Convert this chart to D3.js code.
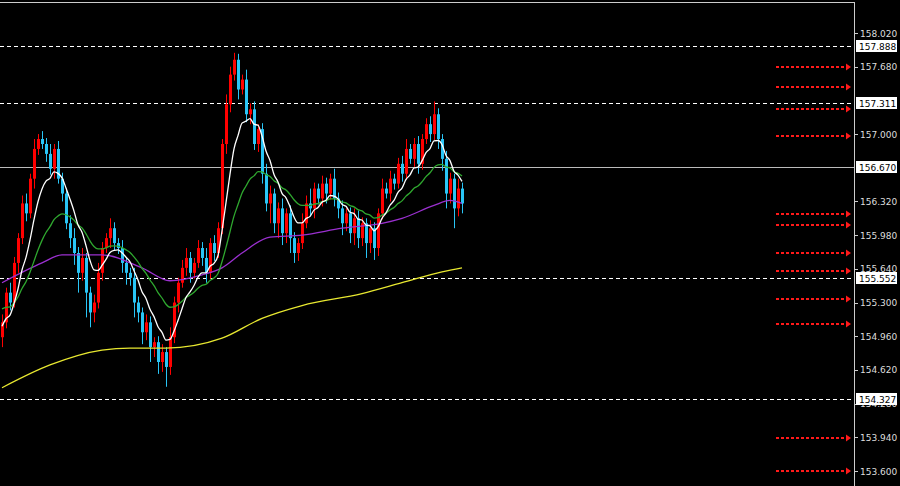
<!DOCTYPE html>
<html><head><meta charset="utf-8">
<script src="https://cdn.jsdelivr.net/npm/d3@7"></script>
<style>body{margin:0;background:#000;overflow:hidden}</style>
</head><body><div id="container"></div>
<script>
// closes per bar, open = previous close
const closes = [155.10,155.40,155.30,155.70,155.95,156.30,156.20,156.55,156.85,156.95,
156.90,156.80,156.65,156.85,156.55,156.40,156.10,155.95,155.80,155.60,
155.75,155.40,155.20,155.30,155.60,155.85,155.95,156.05,155.90,155.85,
155.70,155.60,155.55,155.30,155.20,155.00,155.10,154.85,154.90,154.70,
154.80,154.65,154.95,155.30,155.50,155.65,155.75,155.60,155.70,155.85,
155.75,155.60,155.90,155.80,156.05,156.90,157.30,157.60,157.75,157.45,
157.55,157.20,157.25,156.90,157.05,156.60,156.30,156.40,156.10,156.25,
156.00,156.20,155.95,155.80,155.90,156.10,156.30,156.25,156.45,156.35,
156.50,156.40,156.55,156.35,156.25,156.10,156.20,156.00,156.15,155.95,
156.10,155.90,156.05,155.85,156.20,156.45,156.40,156.55,156.50,156.70,
156.60,156.85,156.75,156.90,156.70,156.95,157.10,157.00,157.20,156.95,
156.75,156.40,156.55,156.25,156.45,156.30];
const firstOpen = 154.95;
const wickUp = [.08,.05,.1,.06,.05,.08,.1,.05,.1,.05,.08,.06,.1,.05,.08,.06,.05,.08,.1,.06,
.1,.05,.06,.08,.1,.06,.05,.1,.06,.05,.08,.06,.05,.1,.06,.05,.08,.06,.05,.06,
.08,.05,.1,.06,.05,.08,.1,.06,.05,.08,.06,.1,.05,.08,.06,.05,.1,.08,.07,.06,
.05,.1,.06,.08,.05,.06,.1,.08,.05,.06,.1,.05,.08,.06,.05,.1,.08,.15,.06,.05,
.08,.06,.05,.1,.06,.08,.05,.06,.1,.08,.06,.05,.08,.06,.05,.1,.06,.08,.05,.06,
.08,.1,.05,.06,.08,.05,.06,.08,.13,.06,.05,.08,.06,.05,.1,.06];
const wickDn = [.1,.06,.08,.05,.1,.06,.08,.05,.1,.06,.05,.08,.06,.1,.05,.08,.06,.1,.12,.2,
.08,.25,.15,.1,.06,.08,.05,.1,.08,.06,.1,.12,.08,.15,.1,.12,.08,.15,.1,.12,
.1,.2,.08,.06,.1,.05,.08,.1,.06,.05,.08,.1,.06,.08,.05,.06,.1,.08,.06,.1,
.05,.08,.1,.06,.08,.1,.08,.2,.1,.15,.12,.1,.15,.1,.08,.06,.05,.08,.1,.06,
.08,.1,.06,.08,.1,.12,.08,.1,.12,.1,.08,.15,.1,.12,.08,.06,.05,.08,.06,.05,
.08,.06,.05,.08,.1,.06,.05,.08,.06,.1,.12,.15,.1,.2,.08,.1];
// hand-read moving averages: [bar index, price]
const purpleMA = [[0,155.50],[10,155.70],[15,155.78],[25,155.78],[35,155.65],[42,155.52],[50,155.58],[55,155.65],[60,155.80],[67,155.96],[75,155.98],[85,156.05],[95,156.10],[100,156.15],[108,156.28],[112,156.33],[115,156.30]];
const yellowMA = [[0,154.44],[12,154.67],[25,154.82],[32,154.84],[41,154.84],[55,154.94],[65,155.14],[75,155.27],[90,155.39],[100,155.50],[110,155.61],[115,155.65]];
const ticks = [158.020,157.680,157.000,156.320,155.980,155.640,155.300,154.960,154.620,154.280,153.940,153.600];
const dashedLevels = [157.888,157.311,155.552,154.327];
const solidLevel = 156.670;
const arrowLevels = [157.68,157.48,157.25,156.98,156.19,156.08,155.80,155.62,155.34,155.08,153.93,153.60];

const W = 900, H = 486, plotR = 854;
const y = d3.scaleLinear().domain([153.600,158.020]).range([471,33]);
const x = d3.scaleLinear().domain([0,1]).range([2,6]);
const svg = d3.select("#container").append("svg").attr("width",W).attr("height",H)
  .style("background","#000").style("font-family","DejaVu Sans").style("font-size","9px");

// frame
svg.append("line").attr("x1",0).attr("x2",plotR).attr("y1",2.5).attr("y2",2.5).attr("stroke","#ccc");
svg.append("line").attr("x1",plotR+.5).attr("x2",plotR+.5).attr("y1",2).attr("y2",H).attr("stroke","#ccc");

// levels
svg.append("line").attr("x1",0).attr("x2",plotR).attr("y1",Math.round(y(solidLevel))+.5).attr("y2",Math.round(y(solidLevel))+.5).attr("stroke","#bbb");
svg.selectAll(".dl").data(dashedLevels).enter().append("line")
  .attr("x1",0).attr("x2",plotR).attr("y1",d=>Math.round(y(d))+.5).attr("y2",d=>Math.round(y(d))+.5)
  .attr("stroke","#fff").attr("stroke-dasharray","4,3").attr("shape-rendering","crispEdges");

// red arrows
const ar = svg.selectAll(".ar").data(arrowLevels).enter().append("g")
  .attr("transform",d=>`translate(0,${Math.round(y(d))})`);
ar.append("rect").attr("x",776).attr("y",-1).attr("width",70).attr("height",2)
  .attr("fill","url(#dots)");
ar.append("path").attr("d",`M846,-3.5L851,0L846,3.5Z`).attr("fill","#ff1a1a");
const pat = svg.append("defs").append("pattern").attr("id","dots").attr("patternUnits","userSpaceOnUse")
  .attr("width",5).attr("height",2).attr("x",776);
pat.append("rect").attr("width",3).attr("height",2).attr("fill","#ff1a1a");

// candles
const bars = closes.map((c,i)=>{const o=i?closes[i-1]:firstOpen;
  return {i,o,c,h:Math.max(o,c)+wickUp[i],l:Math.min(o,c)-wickDn[i]};});
const col = d=>d.c>=d.o?"#ff0000":"#29c5f6";
svg.selectAll(".wk").data(bars).enter().append("line")
  .attr("x1",d=>x(d.i)+.5).attr("x2",d=>x(d.i)+.5).attr("y1",d=>y(d.h)).attr("y2",d=>y(d.l))
  .attr("stroke",col);
svg.selectAll(".bd").data(bars).enter().append("rect")
  .attr("x",d=>x(d.i)-1).attr("width",3)
  .attr("y",d=>y(Math.max(d.o,d.c))).attr("height",d=>Math.max(1,Math.abs(y(d.o)-y(d.c))))
  .attr("fill",col);

// EMAs from closes
function ema(n,seed){let v=seed;return closes.map(c=>(v=v+(c-v)*2/(n+1)));}
const line = d3.line().x(d=>x(d[0])).y(d=>y(d[1])).curve(d3.curveMonotoneX);
const lines = [[yellowMA,"#e8e830"],[purpleMA,"#9b30d0"],
  [ema(21,155.25).map((v,i)=>[i,v]),"#2fa82f"],[ema(8,155.05).map((v,i)=>[i,v]),"#ffffff"]];
lines.forEach(([d,c])=>svg.append("path").attr("d",line(d)).attr("fill","none").attr("stroke",c).attr("stroke-width",1.3));

// axis ticks and labels
svg.selectAll(".tk").data(ticks).enter().append("line")
  .attr("x1",plotR).attr("x2",plotR+4).attr("y1",d=>Math.round(y(d))+.5).attr("y2",d=>Math.round(y(d))+.5).attr("stroke","#ccc");
svg.selectAll(".tl").data(ticks).enter().append("text")
  .attr("x",860).attr("y",d=>y(d)+3.5).attr("fill","#ddd").text(d=>d.toFixed(3));
const lab = svg.selectAll(".lb").data(dashedLevels.concat([solidLevel])).enter().append("g")
  .attr("transform",d=>`translate(856,${Math.round(y(d))})`);
lab.append("rect").attr("x",0).attr("y",-6).attr("width",41).attr("height",12).attr("fill","#fff");
lab.append("text").attr("x",3).attr("y",3.5).attr("fill","#000").text(d=>d.toFixed(3));
</script></body></html>
